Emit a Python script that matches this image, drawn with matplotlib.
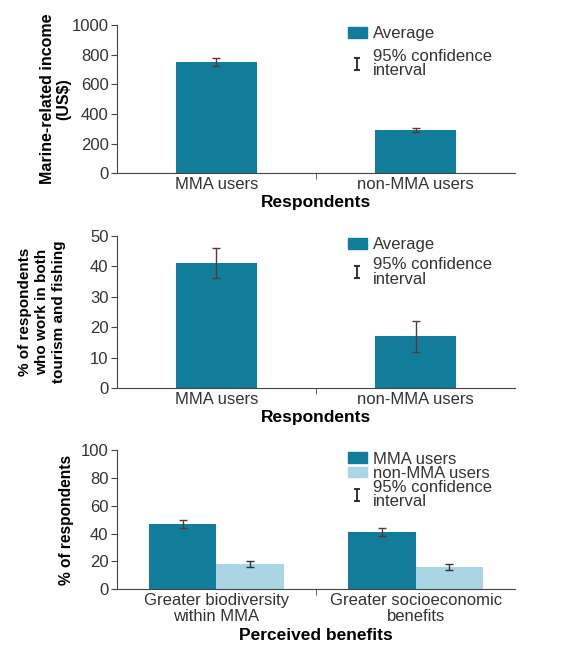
import numpy as np
import matplotlib
matplotlib.use('Agg')
import matplotlib.pyplot as plt
from matplotlib.patches import Patch
from matplotlib.lines import Line2D
from matplotlib.path import Path

# --- dados ---
grupos = ['MMA users', 'non-MMA users']
renda = [750, 290]
renda_ic = [25, 15]

turismo_pesca = [41, 17]
turismo_pesca_ic = [5, 5]

beneficios = ['Greater biodiversity\nwithin MMA', 'Greater socioeconomic\nbenefits']
benef_mma = [47, 41]
benef_mma_ic = [3, 3]
benef_nao_mma = [18, 16]
benef_nao_mma_ic = [2, 2]

ESCURO = '#127d9b'
CLARO = '#a9d5e4'
COR_ERRO = '#5a3838'
COR_EIXO = '#444444'
COR_TEXTO = '#333333'

plt.rcParams['font.family'] = ['Liberation Sans', 'DejaVu Sans']
plt.rcParams['font.size'] = 12

fig = plt.figure(figsize=(5.73, 6.46), dpi=100)

# simbolo "I" do intervalo de confianca (barra com duas tampas)
simbolo_ic = Path([(-0.45, 1), (0.45, 1), (0, 1), (0, -1), (-0.45, -1), (0.45, -1)],
                  [Path.MOVETO, Path.LINETO, Path.MOVETO, Path.LINETO, Path.MOVETO, Path.LINETO])


def estilo(ax, ymax, passo):
    for s in ['top', 'right']:
        ax.spines[s].set_visible(False)
    for s in ['left', 'bottom']:
        ax.spines[s].set_color(COR_EIXO)
    ax.set_ylim(0, ymax)
    ax.set_yticks(np.arange(0, ymax + 1, passo))
    ax.set_xlim(-0.5, 1.5)
    ax.set_xticks([0.5], minor=True)
    ax.tick_params(axis='x', which='major', length=0, labelsize=12, colors=COR_TEXTO, pad=3)
    ax.tick_params(axis='x', which='minor', length=4, color=COR_EIXO)
    ax.tick_params(axis='y', length=4, color=COR_EIXO, labelsize=12, labelcolor=COR_TEXTO, pad=2)


def legenda(ax, handles, labels, y0, esp):
    leg = ax.legend(handles, labels, loc='upper left', bbox_to_anchor=(0.56, y0),
                    frameon=False, fontsize=12, handlelength=1.1, handleheight=0.6,
                    handletextpad=0.4, labelspacing=esp, borderpad=0)
    for t in leg.get_texts():
        t.set_linespacing(0.95)
        t.set_color(COR_TEXTO)


def h_erro():
    return Line2D([], [], marker=simbolo_ic, linestyle='none', color='#222222',
                  markersize=9, markeredgewidth=1.3)


erro_kw = dict(ecolor=COR_ERRO, elinewidth=1, capsize=3, capthick=1)

# painel 1: renda
ax1 = fig.add_axes([0.204, 0.732, 0.695, 0.229])
x = np.arange(len(grupos))
ax1.bar(x, renda, width=0.41, color=ESCURO, yerr=renda_ic, error_kw=erro_kw)
estilo(ax1, 1000, 200)
ax1.set_xticks(x)
ax1.set_xticklabels(grupos)
ax1.set_ylabel('Marine-related income\n(US$)', fontweight='bold', fontsize=11.5,
               linespacing=1.15, labelpad=0)
ax1.set_xlabel('Respondents', fontweight='bold', fontsize=12.5, labelpad=2)
legenda(ax1, [Patch(color=ESCURO), h_erro()], ['Average', '95% confidence\ninterval'], 1.05, 0.45)

# painel 2: turismo e pesca
ax2 = fig.add_axes([0.204, 0.399, 0.695, 0.236])
ax2.bar(x, turismo_pesca, width=0.41, color=ESCURO, yerr=turismo_pesca_ic, error_kw=erro_kw)
estilo(ax2, 50, 10)
ax2.set_xticks(x)
ax2.set_xticklabels(grupos)
ax2.set_ylabel('% of respondents\nwho work in both\ntourism and fishing', fontweight='bold',
               fontsize=11, linespacing=1.3, labelpad=17)
ax2.set_xlabel('Respondents', fontweight='bold', fontsize=12.5, labelpad=2)
legenda(ax2, [Patch(color=ESCURO), h_erro()], ['Average', '95% confidence\ninterval'], 1.045, 0.3)

# painel 3: beneficios percebidos
ax3 = fig.add_axes([0.204, 0.088, 0.695, 0.215])
xb = np.arange(len(beneficios))
w = 0.34
ax3.bar(xb - w / 2, benef_mma, width=w, color=ESCURO, yerr=benef_mma_ic, error_kw=erro_kw)
ax3.bar(xb + w / 2, benef_nao_mma, width=w, color=CLARO, yerr=benef_nao_mma_ic,
        error_kw=dict(erro_kw, ecolor='#333333'))
estilo(ax3, 100, 20)
ax3.set_xticks(xb)
ax3.set_xticklabels(beneficios, linespacing=1.05)
ax3.set_ylabel('% of respondents', fontweight='bold', fontsize=11.2, labelpad=5)
ax3.set_xlabel('Perceived benefits', fontweight='bold', fontsize=12.5, labelpad=3)
legenda(ax3, [Patch(color=ESCURO), Patch(color=CLARO), h_erro()],
        ['MMA users', 'non-MMA users', '95% confidence\ninterval'], 1.05, -0.05)

plt.savefig('out.png', dpi=100, facecolor='white')
